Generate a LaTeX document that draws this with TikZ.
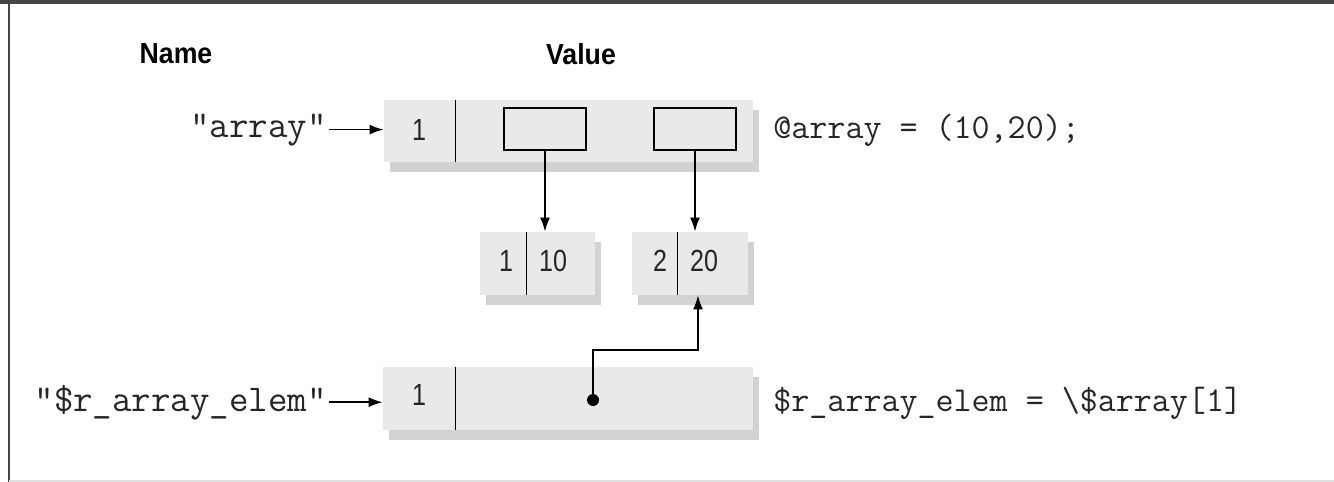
\documentclass[tikz,border=0pt]{standalone}
\usepackage{fontspec}
\newfontfamily\condsans[FakeStretch=0.82]{Liberation Sans}
\newfontfamily\headsans[FakeStretch=0.92]{Liberation Sans}
\usetikzlibrary{arrows.meta,shadows}
\definecolor{boxgray}{RGB}{233,233,233}
\definecolor{framegray}{RGB}{70,70,70}
\begin{document}
\begin{tikzpicture}[x=0.5pt,y=-0.5pt,
  box/.style={fill=boxgray, draw=none, inner sep=0pt,
    drop shadow={shadow xshift=3pt,shadow yshift=-5pt,fill=black!35}},
  ptr/.style={fill=boxgray, draw=black, line width=0.8pt, inner sep=0pt,
    minimum width=41pt, minimum height=21pt},
  divider/.style={line width=0.8pt},
  arr/.style={line width=0.8pt, -{Latex[length=7pt,width=5pt]}},
  num/.style={font=\condsans\fontsize{15.3pt}{16pt}\selectfont, inner sep=0pt, text=black!85},
  head/.style={font=\headsans\bfseries\fontsize{14.5pt}{16pt}\selectfont, inner sep=0pt},
  lbl/.style={font=\ttfamily\fontsize{18.9pt}{20pt}\selectfont, inner sep=0pt, text=black!85},
  code/.style={font=\ttfamily\fontsize{17.5pt}{20pt}\selectfont, inner sep=0pt, anchor=base west, text=black!85}]
\useasboundingbox (0,0) rectangle (1334,482);
% frame
\draw[framegray, line width=1.6pt] (0,2) -- (1334,2);
\draw[framegray, line width=1pt] (9,0) -- (9,482);
\draw[black!12, line width=0.6pt] (9,481) -- (1334,481);

% headers
\node[head] (name) at (176,54) {Name};
\node[head] (value) at (581,54) {Value};

% top array box
\node[box, minimum width=184.5pt, minimum height=31pt] (top) at (568.5,131) {};
\draw[divider] ([xshift=36pt]top.north west) -- ([xshift=36pt]top.south west);
\node[num] (t1) at (419,130) {1};
\node[ptr] (r1) at (545,129) {};
\node[ptr] (r2) at (695,129) {};

% element boxes
\node[box, minimum width=57.5pt, minimum height=31.5pt] (sb1) at (537.5,263.5) {};
\draw[divider] ([xshift=23.5pt]sb1.north west) -- ([xshift=23.5pt]sb1.south west);
\node[num] (s1a) at (506,261) {1};
\node[num] (s1b) at (553,261) {10};
\node[box, minimum width=58pt, minimum height=31.5pt] (sb2) at (690,263.5) {};
\draw[divider] ([xshift=23pt]sb2.north west) -- ([xshift=23pt]sb2.south west);
\node[num] (s2a) at (660,261) {2};
\node[num] (s2b) at (704,261) {20};

% reference box
\node[box, minimum width=185pt, minimum height=31.5pt] (bot) at (568,398.5) {};
\draw[divider] ([xshift=36.5pt]bot.north west) -- ([xshift=36.5pt]bot.south west);
\node[num] (b1) at (419,395) {1};

% labels
\node[lbl, anchor=base east] (lblA) at (327,137) {"array"};
\node[lbl, anchor=base east] (lblB) at (327,411) {"\$r\_array\_elem"};
\draw[arr] ([xshift=1pt]lblA.east) -- (lblA.east -| top.west);
\draw[arr] ([xshift=1pt]lblB.east) -- (lblB.east -| bot.west);

% code
\node[code] (cA) at (773,138) {@array = (10,20);};
\node[code] (cB) at (773,411) {\$r\_array\_elem = \textbackslash\$array[1]};

% pointers
\draw[arr] (r1.south) -- (r1.south |- sb1.north);
\draw[arr] (r2.south) -- (r2.south |- sb2.north);
\coordinate (dot) at (593,400);
\coordinate (bend) at (698,350);
\fill (dot) circle (3pt);
\draw[arr] (dot) |- (bend) -- (bend |- sb2.south);
\end{tikzpicture}
\end{document}
